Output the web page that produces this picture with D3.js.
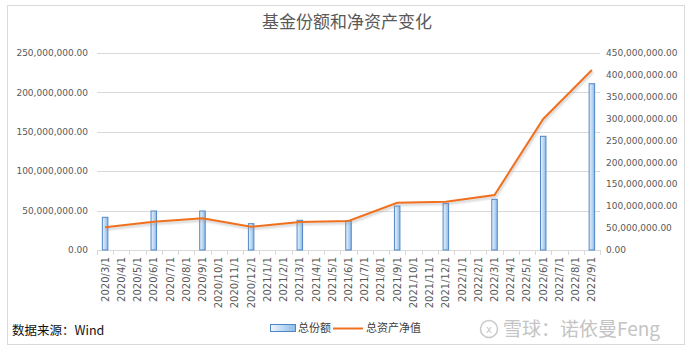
<!DOCTYPE html>
<html><head><meta charset="utf-8">
<script src="https://cdn.jsdelivr.net/npm/d3@7"></script>
<style>body{margin:0;background:#fff}svg{display:block}</style>
</head><body>
<svg id="c" width="692" height="353"></svg>
<script>
const categories = ["2020/3/1","2020/4/1","2020/5/1","2020/6/1","2020/7/1","2020/8/1","2020/9/1","2020/10/1","2020/11/1","2020/12/1","2021/1/1","2021/2/1","2021/3/1","2021/4/1","2021/5/1","2021/6/1","2021/7/1","2021/8/1","2021/9/1","2021/10/1","2021/11/1","2021/12/1","2022/1/1","2022/2/1","2022/3/1","2022/4/1","2022/5/1","2022/6/1","2022/7/1","2022/8/1","2022/9/1"];
// 总份额 (left axis), null where no data
const shares = [41.5e6,null,null,49.5e6,null,null,49.5e6,null,null,33.4e6,null,null,37.7e6,null,null,37.2e6,null,null,55.8e6,null,null,59.2e6,null,null,64.3e6,null,null,144.3e6,null,null,211e6];
// 总资产净值 (right axis)
const nav = [51.9e6,null,null,64.7e6,null,null,72.4e6,null,null,53.3e6,null,null,64e6,null,null,66.3e6,null,null,108e6,null,null,110.4e6,null,null,125.7e6,null,null,299.4e6,null,null,411e6];
const leftTicks = [0,50e6,100e6,150e6,200e6,250e6];
const rightTicks = [0,50e6,100e6,150e6,200e6,250e6,300e6,350e6,400e6,450e6];
const title = "基金份额和净资产变化";
const seriesNames = ["总份额","总资产净值"];
const source = "数据来源：Wind";
const watermark = "雪球：诺依曼Feng";

const svg = d3.select("#c");
const fmt = d3.format(",.2f");
const x0 = 97, x1 = 600, yTop = 53, yBot = 250;

const defs = svg.append("defs");
const g1 = defs.append("linearGradient").attr("id","barg").attr("x1","0").attr("x2","1").attr("y1","0").attr("y2","0");
g1.append("stop").attr("offset","0").attr("stop-color","#eef5fc");
g1.append("stop").attr("offset","1").attr("stop-color","#8dbbe9");
const f = defs.append("filter").attr("id","sh").attr("x","-5%").attr("y","-5%").attr("width","110%").attr("height","120%");
f.append("feGaussianBlur").attr("stdDeviation","1");

// border
svg.append("rect").attr("x",7.5).attr("y",5.5).attr("width",677).attr("height",339)
  .attr("fill","none").attr("stroke","#d9d9d9");

const x = d3.scaleBand().domain(categories).range([x0,x1]).padding(0);
const yL = d3.scaleLinear().domain([0,250e6]).range([yBot,yTop]);
const yR = d3.scaleLinear().domain([0,450e6]).range([yBot,yTop]);

// gridlines
svg.append("g").selectAll("line").data(leftTicks.slice(1)).join("line")
  .attr("x1",x0).attr("x2",x1).attr("y1",d=>Math.round(yL(d))+0.5).attr("y2",d=>Math.round(yL(d))+0.5)
  .attr("stroke","#d9d9d9");

// left labels
svg.append("g").selectAll("text").data(leftTicks).join("text")
  .attr("x",88).attr("y",d=>yL(d)).attr("dy","0.35em").attr("text-anchor","end")
  .attr("font-family","DejaVu Sans").attr("font-size",9).attr("fill","#595959").text(d=>fmt(d));
// right labels
svg.append("g").selectAll("text").data(rightTicks).join("text")
  .attr("x",606).attr("y",d=>yR(d)).attr("dy","0.35em").attr("text-anchor","start")
  .attr("font-family","DejaVu Sans").attr("font-size",9).attr("fill","#595959").text(d=>fmt(d));

// x axis
const xa = svg.append("g").attr("transform",`translate(0,${yBot})`);
xa.append("line").attr("x1",x0).attr("x2",x1).attr("y1",0.5).attr("y2",0.5).attr("stroke","#d9d9d9");
xa.selectAll("line.t").data(categories.concat(["_end"])).join("line").attr("class","t")
  .attr("x1",(d,i)=>Math.round(x0+i*x.bandwidth())+0.5).attr("x2",(d,i)=>Math.round(x0+i*x.bandwidth())+0.5)
  .attr("y1",0).attr("y2",5).attr("stroke","#d9d9d9");
xa.selectAll("text").data(categories).join("text")
  .attr("transform",d=>`translate(${x(d)+x.bandwidth()/2},7) rotate(-90)`)
  .attr("dy","0.35em").attr("text-anchor","end")
  .attr("font-family","DejaVu Sans").attr("font-size",10).attr("fill","#595959").text(d=>d);

// bars
const bw = 5.5;
svg.append("g").selectAll("rect").data(categories.map((c,i)=>({c,v:shares[i]})).filter(d=>d.v!=null)).join("rect")
  .attr("x",d=>x(d.c)+x.bandwidth()/2-bw/2).attr("y",d=>yL(d.v))
  .attr("width",bw).attr("height",d=>yBot-yL(d.v))
  .attr("fill","url(#barg)").attr("stroke","#4f86c6").attr("stroke-width",1);

// line
const pts = categories.map((c,i)=>({c,v:nav[i]})).filter(d=>d.v!=null);
const line = d3.line().x(d=>x(d.c)+x.bandwidth()/2).y(d=>yR(d.v));
svg.append("path").datum(pts).attr("d",line).attr("fill","none").attr("stroke","#999").attr("stroke-opacity",0.5)
  .attr("stroke-width",2).attr("transform","translate(1,2)").attr("filter","url(#sh)");
svg.append("path").datum(pts).attr("d",line).attr("fill","none").attr("stroke","#f0701e").attr("stroke-width",2);

// title
svg.append("text").attr("x",347).attr("y",22).attr("dy","0.35em").attr("text-anchor","middle")
  .attr("font-family","Noto Sans CJK SC").attr("font-size",17).attr("fill","#595959").text(title);

// legend
const lg = svg.append("g");
lg.append("rect").attr("x",270.5).attr("y",324.5).attr("width",25).attr("height",7)
  .attr("fill","url(#barg)").attr("stroke","#4f86c6");
lg.append("text").attr("x",298).attr("y",328).attr("dy","0.35em").attr("font-family","Noto Sans CJK SC")
  .attr("font-size",11).attr("fill","#404040").text(seriesNames[0]);
lg.append("line").attr("x1",333).attr("x2",363).attr("y1",328.5).attr("y2",328.5).attr("stroke","#f0701e").attr("stroke-width",2);
lg.append("text").attr("x",366).attr("y",328).attr("dy","0.35em").attr("font-family","Noto Sans CJK SC")
  .attr("font-size",11).attr("fill","#404040").text(seriesNames[1]);

// source
svg.append("text").attr("x",12).attr("y",331).attr("dy","0.35em").attr("font-family","Noto Sans CJK SC")
  .attr("font-size",12.5).attr("fill","#111").text(source);

// watermark
svg.append("circle").attr("cx",489).attr("cy",329).attr("r",8.5).attr("fill","none").attr("stroke","#c8c8c8").attr("stroke-width",1.5);
svg.append("text").attr("x",489).attr("y",329).attr("dy","0.35em").attr("text-anchor","middle")
  .attr("font-family","DejaVu Sans").attr("font-size",10).attr("fill","#c8c8c8").text("x");
svg.append("text").attr("x",503).attr("y",329).attr("dy","0.36em").attr("font-family","Noto Sans CJK SC")
  .attr("font-size",19).attr("fill","#c4c4c4").text(watermark);
</script>
</body></html>
